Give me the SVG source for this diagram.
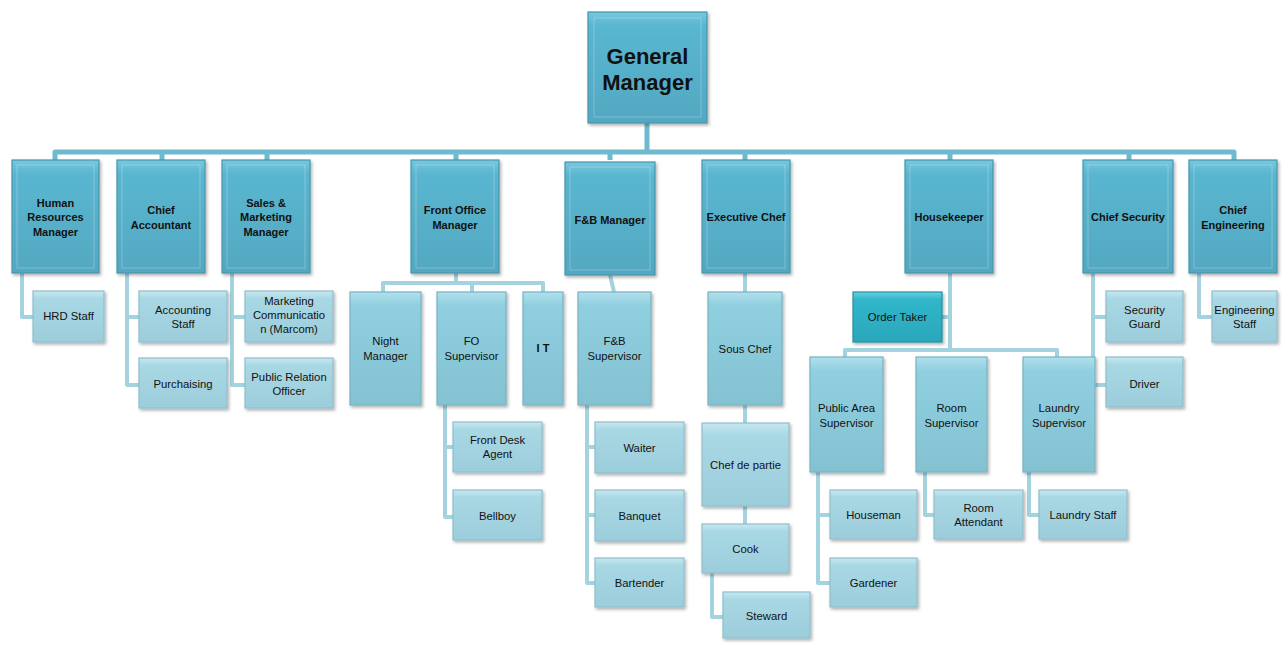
<svg xmlns="http://www.w3.org/2000/svg" width="1287" height="646" viewBox="0 0 1287 646">
<defs>
<linearGradient id="g1" x1="0" y1="0" x2="0" y2="1"><stop offset="0" stop-color="#78c8de"/><stop offset="0.12" stop-color="#5ab6d0"/><stop offset="1" stop-color="#53a8c1"/></linearGradient>
<linearGradient id="g2" x1="0" y1="0" x2="0" y2="1"><stop offset="0" stop-color="#b1e0ec"/><stop offset="0.12" stop-color="#8fcfdf"/><stop offset="1" stop-color="#84c2d2"/></linearGradient>
<linearGradient id="g3" x1="0" y1="0" x2="0" y2="1"><stop offset="0" stop-color="#c7e8f0"/><stop offset="0.15" stop-color="#a9d8e5"/><stop offset="1" stop-color="#9ccdda"/></linearGradient>
<linearGradient id="g4" x1="0" y1="0" x2="0" y2="1"><stop offset="0" stop-color="#63d3e3"/><stop offset="0.15" stop-color="#30b6ca"/><stop offset="1" stop-color="#2ba7bb"/></linearGradient>
<filter id="sh" x="-10%" y="-10%" width="125%" height="125%"><feDropShadow dx="1.5" dy="2" stdDeviation="1.5" flood-color="#000" flood-opacity="0.3"/></filter>
</defs>
<style>
.b{filter:url(#sh);stroke-width:1.2}
.l1{fill:url(#g1);stroke:#4795ac}
.l2{fill:url(#g2);stroke:#77b3c3}
.l3{fill:url(#g3);stroke:#8fbfcc}
.ot{fill:url(#g4);stroke:#258fa1}
.in{fill:none;stroke:#ffffff;stroke-opacity:0.25;stroke-width:1}
text{font-family:"Liberation Sans",Arial,sans-serif;text-anchor:middle;fill:#111}
.t1{font-weight:bold;font-size:11px}
.t2{font-size:11.3px}
.gm{font-weight:bold;font-size:22px}
.c{fill:none;stroke:#6fbacf;stroke-width:5;stroke-linejoin:round}
.c2{fill:none;stroke:#a3d3df;stroke-width:4;stroke-linejoin:round}
</style>
<g id="connectors">
<path class="c" d="M647 123V152M55 160V152H1234V160M162 152V160M267 152V160M456 152V160M610 152V160M745 152V160M950 152V160M1129 152V160"/>
<path class="c2" d="M22 273V317H33"/>
<path class="c2" d="M127 273V385H139M127 317H139"/>
<path class="c2" d="M232 273V385H245M232 317H245"/>
<path class="c2" d="M456 273V283M383 292V283H543V292M472 283V292"/>
<path class="c2" d="M445 405V517H453M445 447H453"/>
<path class="c2" d="M610 275L614 292"/>
<path class="c2" d="M587 405V583H595M587 447H595M587 515H595"/>
<path class="c2" d="M745 273V292M745 405V423M745 506V524"/>
<path class="c2" d="M712 573V617H723"/>
<path class="c2" d="M950 273V350M942 317H950M845 357V350H1057V357"/>
<path class="c2" d="M818 472V583H830M818 515H830"/>
<path class="c2" d="M925 472V515H934"/>
<path class="c2" d="M1029 472V515H1039"/>
<path class="c2" d="M1093 273V385H1106M1093 317H1106"/>
<path class="c2" d="M1199 273V317H1212"/>
</g>
<g id="gm"><rect class="b l1" x="588" y="12" width="119" height="111"/><rect class="in" x="594" y="18" width="107" height="99"/><text class="gm" x="647.5" y="64">General</text><text class="gm" x="647.5" y="90">Manager</text></g>
<g id="hr"><rect class="b l1" x="12" y="160" width="87" height="113"/><rect class="in" x="17" y="165" width="77" height="103"/><text class="t1" x="55.5" y="207">Human</text><text class="t1" x="55.5" y="221">Resources</text><text class="t1" x="55.5" y="236">Manager</text></g>
<g id="ca"><rect class="b l1" x="117" y="160" width="88" height="113"/><rect class="in" x="122" y="165" width="78" height="103"/><text class="t1" x="161" y="214">Chief</text><text class="t1" x="161" y="229">Accountant</text></g>
<g id="sm"><rect class="b l1" x="222" y="160" width="88" height="113"/><rect class="in" x="227" y="165" width="78" height="103"/><text class="t1" x="266" y="207">Sales &amp;</text><text class="t1" x="266" y="221">Marketing</text><text class="t1" x="266" y="236">Manager</text></g>
<g id="fom"><rect class="b l1" x="411" y="160" width="88" height="113"/><rect class="in" x="416" y="165" width="78" height="103"/><text class="t1" x="455" y="214">Front Office</text><text class="t1" x="455" y="229">Manager</text></g>
<g id="fbm"><rect class="b l1" x="565" y="162" width="90" height="113"/><rect class="in" x="570" y="167" width="80" height="103"/><text class="t1" x="610" y="224">F&amp;B Manager</text></g>
<g id="ec"><rect class="b l1" x="702" y="160" width="88" height="113"/><rect class="in" x="707" y="165" width="78" height="103"/><text class="t1" x="746" y="221">Executive Chef</text></g>
<g id="hk"><rect class="b l1" x="905" y="160" width="88" height="113"/><rect class="in" x="910" y="165" width="78" height="103"/><text class="t1" x="949" y="221">Housekeeper</text></g>
<g id="cs"><rect class="b l1" x="1083" y="160" width="90" height="113"/><rect class="in" x="1088" y="165" width="80" height="103"/><text class="t1" x="1128" y="221">Chief Security</text></g>
<g id="ce"><rect class="b l1" x="1189" y="160" width="88" height="113"/><rect class="in" x="1194" y="165" width="78" height="103"/><text class="t1" x="1233" y="214">Chief</text><text class="t1" x="1233" y="229">Engineering</text></g>
<g id="hrd"><rect class="b l3" x="33" y="291" width="71" height="51"/><text class="t2" x="68.5" y="320">HRD Staff</text></g>
<g id="as"><rect class="b l3" x="139" y="291" width="88" height="51"/><text class="t2" x="183" y="314">Accounting</text><text class="t2" x="183" y="328">Staff</text></g>
<g id="pu"><rect class="b l3" x="139" y="358" width="88" height="50"/><text class="t2" x="183" y="388">Purchaising</text></g>
<g id="mc"><rect class="b l3" x="245" y="291" width="88" height="51"/><text class="t2" x="289" y="305">Marketing</text><text class="t2" x="289" y="319">Communicatio</text><text class="t2" x="289" y="333">n (Marcom)</text></g>
<g id="pr"><rect class="b l3" x="245" y="358" width="88" height="50"/><text class="t2" x="289" y="381">Public Relation</text><text class="t2" x="289" y="395">Officer</text></g>
<g id="nm"><rect class="b l2" x="350" y="292" width="71" height="113"/><text class="t2" x="385.5" y="345">Night</text><text class="t2" x="385.5" y="360">Manager</text></g>
<g id="fos"><rect class="b l2" x="437" y="292" width="69" height="113"/><text class="t2" x="471.5" y="345">FO</text><text class="t2" x="471.5" y="360">Supervisor</text></g>
<g id="it"><rect class="b l2" x="523" y="292" width="40" height="113"/><text class="t1" x="543" y="352">I T</text></g>
<g id="fda"><rect class="b l3" x="453" y="422" width="89" height="50"/><text class="t2" x="497.5" y="444">Front Desk</text><text class="t2" x="497.5" y="458">Agent</text></g>
<g id="bb"><rect class="b l3" x="453" y="490" width="89" height="50"/><text class="t2" x="497.5" y="520">Bellboy</text></g>
<g id="fbs"><rect class="b l2" x="578" y="292" width="73" height="113"/><text class="t2" x="614.5" y="345">F&amp;B</text><text class="t2" x="614.5" y="360">Supervisor</text></g>
<g id="wa"><rect class="b l3" x="595" y="422" width="89" height="51"/><text class="t2" x="639.5" y="452">Waiter</text></g>
<g id="bq"><rect class="b l3" x="595" y="490" width="89" height="51"/><text class="t2" x="639.5" y="520">Banquet</text></g>
<g id="bt"><rect class="b l3" x="595" y="558" width="89" height="49"/><text class="t2" x="639.5" y="587">Bartender</text></g>
<g id="sc"><rect class="b l2" x="708" y="292" width="74" height="113"/><text class="t2" x="745" y="353">Sous Chef</text></g>
<g id="cdp"><rect class="b l3" x="702" y="423" width="87" height="83"/><text class="t2" x="745.5" y="469">Chef de partie</text></g>
<g id="ck"><rect class="b l3" x="702" y="524" width="87" height="49"/><text class="t2" x="745.5" y="553">Cook</text></g>
<g id="sw"><rect class="b l3" x="723" y="592" width="87" height="46"/><text class="t2" x="766.5" y="620">Steward</text></g>
<g id="ot"><rect class="b ot" x="853" y="292" width="89" height="50"/><text class="t2" x="897.5" y="321">Order Taker</text></g>
<g id="pas"><rect class="b l2" x="810" y="357" width="73" height="115"/><text class="t2" x="846.5" y="412">Public Area</text><text class="t2" x="846.5" y="427">Supervisor</text></g>
<g id="rs"><rect class="b l2" x="916" y="357" width="71" height="115"/><text class="t2" x="951.5" y="412">Room</text><text class="t2" x="951.5" y="427">Supervisor</text></g>
<g id="ls"><rect class="b l2" x="1023" y="357" width="72" height="115"/><text class="t2" x="1059" y="412">Laundry</text><text class="t2" x="1059" y="427">Supervisor</text></g>
<g id="hm"><rect class="b l3" x="830" y="490" width="87" height="49"/><text class="t2" x="873.5" y="519">Houseman</text></g>
<g id="gd"><rect class="b l3" x="830" y="558" width="87" height="49"/><text class="t2" x="873.5" y="587">Gardener</text></g>
<g id="ra"><rect class="b l3" x="934" y="490" width="89" height="49"/><text class="t2" x="978.5" y="512">Room</text><text class="t2" x="978.5" y="526">Attendant</text></g>
<g id="lst"><rect class="b l3" x="1039" y="490" width="88" height="49"/><text class="t2" x="1083" y="519">Laundry Staff</text></g>
<g id="sg"><rect class="b l3" x="1106" y="291" width="77" height="51"/><text class="t2" x="1144.5" y="314">Security</text><text class="t2" x="1144.5" y="328">Guard</text></g>
<g id="dr"><rect class="b l3" x="1106" y="357" width="77" height="50"/><text class="t2" x="1144.5" y="388">Driver</text></g>
<g id="es"><rect class="b l3" x="1212" y="291" width="65" height="51"/><text class="t2" x="1244.5" y="314">Engineering</text><text class="t2" x="1244.5" y="328">Staff</text></g>
</svg>
